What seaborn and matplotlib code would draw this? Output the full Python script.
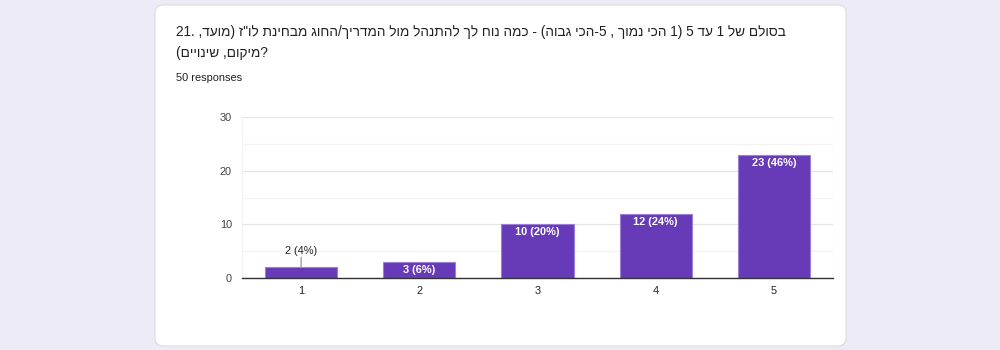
import matplotlib
matplotlib.use("Agg")
import matplotlib.pyplot as plt
from matplotlib.patches import FancyBboxPatch
import seaborn as sns
import pandas as pd

categories = ["1", "2", "3", "4", "5"]
counts = [2, 3, 10, 12, 23]
y_ticks = [0, 10, 20, 30]
title_num = "21."
title_he_line1 = 'בסולם של 1 עד 5 (1 הכי נמוך , 5-הכי גבוה) - כמה נוח לך להתנהל מול המדריך/החוג מבחינת לו"ז (מועד,'
title_he_line2 = "מיקום, שינויים)"
subtitle = "50 responses"

total = sum(counts)
labels = [f"{c} ({round(100 * c / total)}%)" for c in counts]

MIRROR = {"(": ")", ")": "(", "[": "]", "]": "["}


def visual(s):
    return "".join(MIRROR.get(ch, ch) for ch in reversed(s))


line1 = title_num + " " + visual(title_he_line1)
line2 = visual(title_he_line2) + "?"

sns.set_theme(style="white")
plt.rcParams["font.family"] = ["Liberation Sans", "DejaVu Sans"]

W, H = 1000, 350
DPI = 100
fig = plt.figure(figsize=(W / DPI, H / DPI), dpi=DPI)
fig.patch.set_facecolor("#EDEBF6")

PX = 72 / DPI  # points per pixel


def fx(x):
    return x / W


def fy(y):
    return 1 - y / H


card = FancyBboxPatch((fx(155), fy(346)), fx(846) - fx(155), fy(5) - fy(346),
                      boxstyle="round,pad=0,rounding_size=0.008",
                      transform=fig.transFigure, facecolor="white",
                      edgecolor="#DADCE0", linewidth=0.8, zorder=-5,
                      mutation_aspect=W / H)
fig.patches.append(card)

fig.text(fx(176), fy(32), line1, fontsize=13.6 * PX, color="#202124",
         ha="left", va="center")
fig.text(fx(176), fy(53), line2, fontsize=13.6 * PX, color="#202124",
         ha="left", va="center")
fig.text(fx(176), fy(78), subtitle, fontsize=11 * PX, color="#202124",
         ha="left", va="center")

ax = fig.add_axes([fx(242), fy(278), fx(833) - fx(242), fy(117) - fy(278)])
ax.set_zorder(2)
ax.set_facecolor("white")

df = pd.DataFrame({"cat": categories, "count": counts})
sns.barplot(data=df, x="cat", y="count", color="#673AB7", width=0.61,
            saturation=1, edgecolor="#9C7FD6", linewidth=0.8, ax=ax, zorder=3)

ax.set_ylim(0, 30)
ax.set_yticks(y_ticks)
ax.set_yticks([5, 15, 25], minor=True)
ax.grid(axis="y", which="major", color="#E6E6E6", linewidth=0.9, zorder=0)
ax.grid(axis="y", which="minor", color="#F3F3F3", linewidth=0.9, zorder=0)
ax.set_xlim(-0.5, 4.5)

for side in ["top", "right", "left"]:
    ax.spines[side].set_visible(False)
ax.spines["bottom"].set_color("#333333")
ax.spines["bottom"].set_linewidth(1.0)
ax.spines["bottom"].set_zorder(5)
ax.axvline(4.5, color="#EEEEEE", linewidth=0.9, zorder=0)
ax.axvline(-0.5, color="#F3F3F3", linewidth=0.9, zorder=0)

ax.set_xlabel("")
ax.set_ylabel("")
ax.tick_params(axis="both", which="both", length=0)
ax.tick_params(axis="y", labelsize=11 * PX, labelcolor="#444444", pad=10 * PX)
ax.tick_params(axis="x", labelsize=11 * PX, labelcolor="#222222", pad=8 * PX)

for i, (p, lab) in enumerate(zip(ax.patches, labels)):
    xc = p.get_x() + p.get_width() / 2
    top = p.get_height()
    if i == 0:
        ax.annotate("", xy=(xc, top), xytext=(0, 10 * PX),
                    textcoords="offset points",
                    arrowprops=dict(arrowstyle="-", color="#999999", lw=0.9,
                                    shrinkA=0, shrinkB=0),
                    zorder=6)
        ax.annotate(lab, xy=(xc, top), xytext=(0, 16 * PX),
                    textcoords="offset points", ha="center", va="center",
                    fontsize=11 * PX, color="#222222", zorder=6)
    else:
        ax.annotate(lab, xy=(xc, top), xytext=(0, -8 * PX),
                    textcoords="offset points", ha="center", va="center",
                    fontsize=11 * PX, color="white", fontweight="bold",
                    zorder=6)

fig.savefig("out.png", dpi=DPI, facecolor=fig.get_facecolor())
